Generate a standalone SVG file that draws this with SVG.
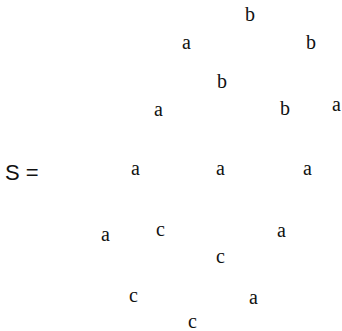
<svg xmlns="http://www.w3.org/2000/svg" width="342" height="331" viewBox="0 0 342 331">
<style>
.s{font-family:"Liberation Sans",Arial,sans-serif;font-size:22px;fill:#111}
.l{font-family:"Liberation Serif","Times New Roman",serif;font-size:20px;fill:#111}
</style>
<rect width="342" height="331" fill="#fff"/>
<text class="s" x="5" y="180">S =</text>
<g id="letters">
<text class="l" x="245" y="21">b</text>
<text class="l" x="182" y="49">a</text>
<text class="l" x="306" y="49">b</text>
<text class="l" x="217" y="88">b</text>
<text class="l" x="154" y="116">a</text>
<text class="l" x="280" y="115">b</text>
<text class="l" x="332" y="111">a</text>
<text class="l" x="131" y="175">a</text>
<text class="l" x="216" y="175">a</text>
<text class="l" x="303" y="175">a</text>
<text class="l" x="101" y="241">a</text>
<text class="l" x="156" y="236">c</text>
<text class="l" x="277" y="237">a</text>
<text class="l" x="216" y="263">c</text>
<text class="l" x="129" y="302">c</text>
<text class="l" x="249" y="304">a</text>
<text class="l" x="188" y="328">c</text>
</g>
</svg>
